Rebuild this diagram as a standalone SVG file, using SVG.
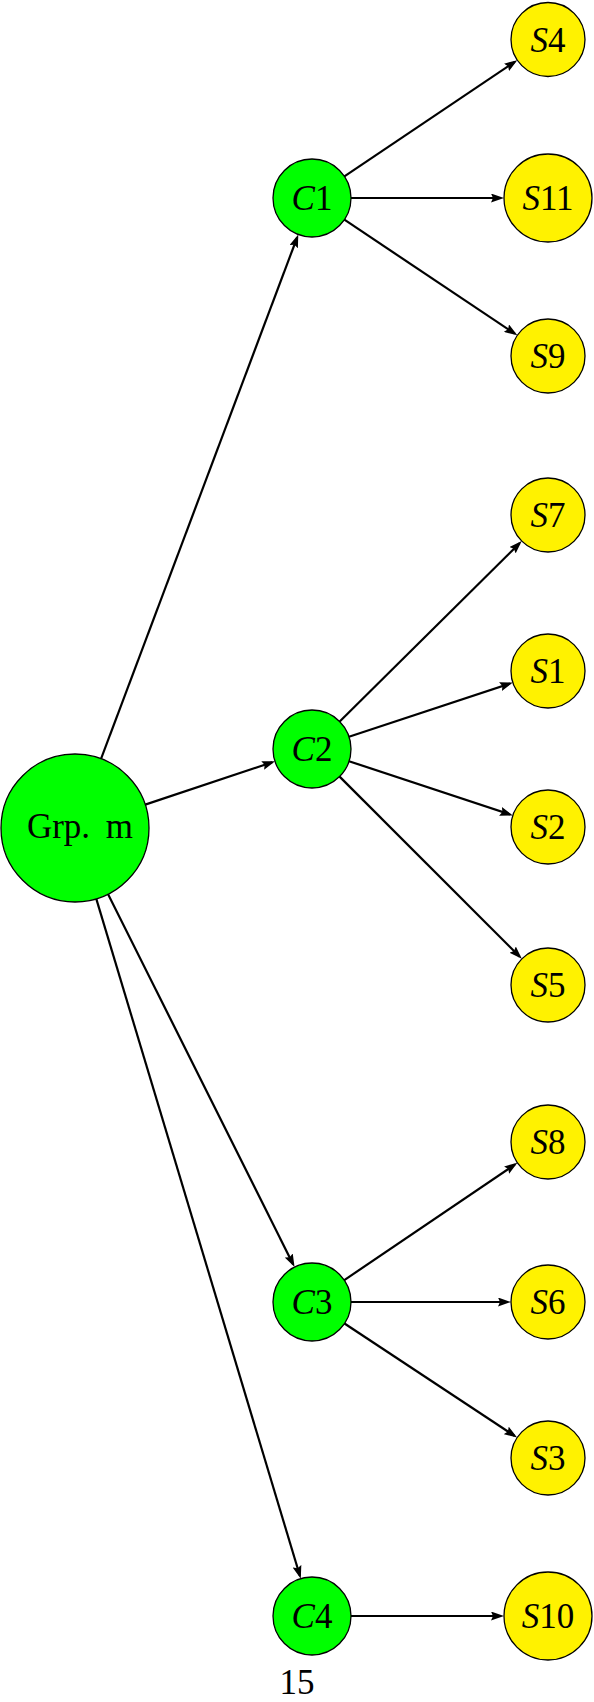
<svg xmlns="http://www.w3.org/2000/svg" width="594" height="1702" viewBox="0 0 594 1702">
<style>
.c{fill:#00ff00;stroke:#000;stroke-width:1.3}
.s{fill:#fff200;stroke:#000;stroke-width:1.3}
.t{font-family:"Liberation Serif","DejaVu Serif",serif;font-size:35px;text-anchor:middle;fill:#000}
.i{font-style:italic}
.e{stroke:#000;stroke-width:2.2;fill:none;marker-end:url(#ah)}
</style>
<defs>
<marker id="ah" viewBox="0 0 13 9" refX="10" refY="4.5" markerWidth="13" markerHeight="9" markerUnits="userSpaceOnUse" orient="auto">
<path d="M0,0 L13,4.5 L0,9 L2,4.5 z" fill="#000"/>
</marker>
</defs>
<g id="connectors">
<line class="e" x1="101.1" y1="758.7" x2="297.2" y2="237.3"/>
<line class="e" x1="145.2" y1="804.6" x2="272.2" y2="762.3"/>
<line class="e" x1="108.1" y1="894.2" x2="293.2" y2="1264.4"/>
<line class="e" x1="96.3" y1="898.9" x2="299.9" y2="1575.8"/>
<line class="e" x1="344.4" y1="176.3" x2="514.8" y2="61.8"/>
<line class="e" x1="351" y1="198" x2="501" y2="198"/>
<line class="e" x1="344.4" y1="219.7" x2="514.8" y2="333.7"/>
<line class="e" x1="339.7" y1="721.5" x2="519.6" y2="543.2"/>
<line class="e" x1="349" y1="736.8" x2="510" y2="683.5"/>
<line class="e" x1="349" y1="761.2" x2="510" y2="814.5"/>
<line class="e" x1="339.6" y1="776.6" x2="519.7" y2="956.7"/>
<line class="e" x1="344.3" y1="1280.1" x2="514.9" y2="1164.5"/>
<line class="e" x1="351" y1="1302" x2="508" y2="1302"/>
<line class="e" x1="344.5" y1="1323.5" x2="514.6" y2="1435.9"/>
<line class="e" x1="351" y1="1616" x2="501" y2="1616"/>
</g>
<g id="grp"><circle class="c" cx="75" cy="828" r="74"/><text class="t" x="80" y="838">Grp.<tspan dx="7"> m</tspan></text></g>
<g id="C1"><circle class="c" cx="312" cy="198" r="39"/><text class="t" x="312" y="210"><tspan class="i">C</tspan>1</text></g>
<g id="C2"><circle class="c" cx="312" cy="749" r="39"/><text class="t" x="312" y="761"><tspan class="i">C</tspan>2</text></g>
<g id="C3"><circle class="c" cx="312" cy="1302" r="39"/><text class="t" x="312" y="1314"><tspan class="i">C</tspan>3</text></g>
<g id="C4"><circle class="c" cx="312" cy="1616" r="39"/><text class="t" x="312" y="1628"><tspan class="i">C</tspan>4</text></g>
<g id="S4"><circle class="s" cx="548" cy="39.5" r="37"/><text class="t" x="548" y="51.5"><tspan class="i">S</tspan>4</text></g>
<g id="S11"><circle class="s" cx="548" cy="198" r="44"/><text class="t" x="548" y="210"><tspan class="i">S</tspan>11</text></g>
<g id="S9"><circle class="s" cx="548" cy="356" r="37"/><text class="t" x="548" y="368"><tspan class="i">S</tspan>9</text></g>
<g id="S7"><circle class="s" cx="548" cy="515" r="37"/><text class="t" x="548" y="527"><tspan class="i">S</tspan>7</text></g>
<g id="S1"><circle class="s" cx="548" cy="671" r="37"/><text class="t" x="548" y="683"><tspan class="i">S</tspan>1</text></g>
<g id="S2"><circle class="s" cx="548" cy="827" r="37"/><text class="t" x="548" y="839"><tspan class="i">S</tspan>2</text></g>
<g id="S5"><circle class="s" cx="548" cy="985" r="37"/><text class="t" x="548" y="997"><tspan class="i">S</tspan>5</text></g>
<g id="S8"><circle class="s" cx="548" cy="1142" r="37"/><text class="t" x="548" y="1154"><tspan class="i">S</tspan>8</text></g>
<g id="S6"><circle class="s" cx="548" cy="1302" r="37"/><text class="t" x="548" y="1314"><tspan class="i">S</tspan>6</text></g>
<g id="S3"><circle class="s" cx="548" cy="1458" r="37"/><text class="t" x="548" y="1470"><tspan class="i">S</tspan>3</text></g>
<g id="S10"><circle class="s" cx="548" cy="1616" r="44"/><text class="t" x="548" y="1628"><tspan class="i">S</tspan>10</text></g>
<text class="t" x="297" y="1694">15</text>
</svg>
